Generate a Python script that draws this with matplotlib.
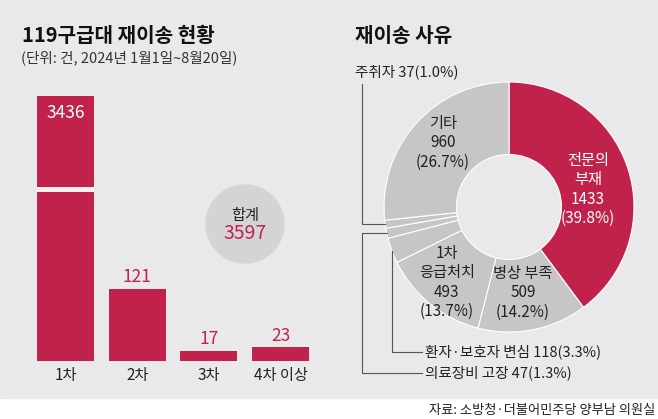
import matplotlib
matplotlib.use("Agg")
import matplotlib.pyplot as plt
import numpy as np
from matplotlib.patches import Circle, Rectangle

plt.rcParams["font.family"] = ["Noto Sans CJK KR", "DejaVu Sans"]

# data
BAR_LABELS = ["1차", "2차", "3차", "4차 이상"]
BAR_VALUES = [3436, 121, 17, 23]

REASON_LABELS = ["전문의 부재", "병상 부족", "1차 응급처치", "환자·보호자 변심", "의료장비 고장", "주취자", "기타"]
REASON_VALUES = [1433, 509, 493, 118, 47, 37, 960]
REASON_PCTS = [39.8, 14.2, 13.7, 3.3, 1.3, 1.0, 26.7]

TITLE_LEFT = "119구급대 재이송 현황"
SUBTITLE_LEFT = "(단위: 건, 2024년 1월1일~8월20일)"
TITLE_RIGHT = "재이송 사유"
SOURCE = "자료: 소방청·더불어민주당 양부남 의원실"

# style
W, H = 658, 419
RED = "#c1224b"
GREY_BG = "#e9e9eb"
GREY_PIE = "#c6c6c8"
GREY_SUM = "#d4d4d6"
DARK = "#222222"

BREAK_AT = 284
BREAK_SKIP = 2991
BREAK_GAP = 8.4

PIE_CX, PIE_CY, PIE_R = 509, 207, 125


def display_height(value):
    if value < BREAK_AT:
        return value
    return value - BREAK_SKIP


def px_axes(x0, y0, x1, y1):
    # pixel box (top-left origin) -> figure fraction rect
    return [x0 / W, (H - y1) / H, (x1 - x0) / W, (y1 - y0) / H]


fig = plt.figure(figsize=(W / 100, H / 100), dpi=100, facecolor="white")

bg = fig.add_axes([0, 0, 1, 1], zorder=0)
bg.set_xlim(0, W)
bg.set_ylim(H, 0)
bg.axis("off")
bg.add_patch(Rectangle((0, 0), W, 398, color=GREY_BG, zorder=0))
bg.add_patch(Circle((245, 224), 39, color=GREY_SUM, zorder=1))

# bar chart with a broken first bar
ax = fig.add_axes(px_axes(29.7, 93.25, 316.3, 361), zorder=1)
ax.patch.set_alpha(0)
x = np.arange(len(BAR_VALUES))
heights = [display_height(v) for v in BAR_VALUES]
bar_width = 0.795
ax.bar(x, heights, width=bar_width, color=RED)
ax.set_xlim(-0.5, len(BAR_VALUES) - 0.5)
ax.set_ylim(0, 450)
for i, v in enumerate(BAR_VALUES):
    if v >= BREAK_AT:
        ax.fill_between([i - bar_width / 2, i + bar_width / 2], BREAK_AT, BREAK_AT + BREAK_GAP,
                        color="#f6f1f3", lw=0)
        ax.annotate(f"{v}", (i, heights[i]), xytext=(0, -12), textcoords="offset points",
                    ha="center", va="center", color="white", fontsize=12.5)
    else:
        ax.annotate(f"{v}", (i, heights[i]), xytext=(0, 8.5), textcoords="offset points",
                    ha="center", va="center", color=RED, fontsize=12.5)
ax.set_xticks(x, BAR_LABELS)
ax.tick_params(axis="x", length=0, pad=4, labelsize=11, colors=DARK)
ax.set_yticks([])
for spine in ax.spines.values():
    spine.set_visible(False)

# donut
ax_pie = fig.add_axes(px_axes(PIE_CX - PIE_R, PIE_CY - PIE_R, PIE_CX + PIE_R, PIE_CY + PIE_R), zorder=2)
colors = [RED] + [GREY_PIE] * (len(REASON_VALUES) - 1)
ax_pie.pie(REASON_VALUES, colors=colors, startangle=90, counterclock=False, radius=1,
           wedgeprops=dict(width=0.58, edgecolor="white", linewidth=0.8))
ax_pie.set_xlim(-1, 1)
ax_pie.set_ylim(-1, 1)
ax_pie.axis("off")

# overlay for text and leader lines
ov = fig.add_axes([0, 0, 1, 1], zorder=5)
ov.set_xlim(0, W)
ov.set_ylim(H, 0)
ov.axis("off")
ov.patch.set_alpha(0)

ov.text(22, 35, TITLE_LEFT, fontsize=14.5, fontweight="bold", color="#111", ha="left", va="center")
ov.text(21, 58, SUBTITLE_LEFT, fontsize=10.5, color="#333", ha="left", va="center")
ov.text(355, 35, TITLE_RIGHT, fontsize=14.5, fontweight="bold", color="#111", ha="left", va="center")
ov.text(655, 410, SOURCE, fontsize=9.5, color=DARK, ha="right", va="center")

ov.text(245, 215, "합계", fontsize=11, color=DARK, ha="center", va="center")
ov.text(245, 233, f"{sum(BAR_VALUES)}", fontsize=14, color=RED, ha="center", va="center",
        fontweight="medium")

total = sum(REASON_VALUES)
cum = np.cumsum([0] + REASON_VALUES)
mid_deg = [(cum[i] + cum[i + 1]) / 2 / total * 360 for i in range(len(REASON_VALUES))]


def edge_point(i):
    t = np.radians(mid_deg[i])
    return PIE_CX + PIE_R * np.sin(t), PIE_CY - PIE_R * np.cos(t)


def reason_text(i):
    return f"{REASON_VALUES[i]}({REASON_PCTS[i]:.1f}%)"


inner_size = 11
line_gap = 19.5
inner_labels = [
    (0, 588, 160, ["전문의", "부재"], "white"),
    (1, 523, 273, ["병상 부족"], DARK),
    (2, 447, 253, ["1차", "응급처치"], DARK),
    (6, 443, 123, ["기타"], DARK),
]
for idx, lx, ly, words, col in inner_labels:
    lines = words + [f"{REASON_VALUES[idx]}", f"({REASON_PCTS[idx]:.1f}%)"]
    for k, line in enumerate(lines):
        ov.text(lx, ly + k * line_gap, line, fontsize=inner_size, color=col, ha="center", va="center")

line_kw = dict(color="#555555", lw=0.8)
# 주취자
ex, ey = edge_point(5)
ov.plot([ex, 362, 362], [ey, ey, 84], **line_kw)
ov.text(355, 72, f"{REASON_LABELS[5]} {reason_text(5)}", fontsize=10.5, color=DARK, ha="left", va="center")
# 의료장비 고장
ex, ey = edge_point(4)
ov.plot([ex, 362, 362, 422], [ey, ey, 373, 373], **line_kw)
ov.text(425, 373, f"{REASON_LABELS[4]} {reason_text(4)}", fontsize=10.5, color=DARK, ha="left", va="center")
# 환자·보호자 변심
ex, ey = edge_point(3)
ov.plot([ex, ex, 422], [ey, 352, 352], **line_kw)
ov.text(425, 352, f"{REASON_LABELS[3]} {reason_text(3)}", fontsize=10.5, color=DARK, ha="left", va="center")

fig.savefig("out.png", dpi=100, facecolor="white")
